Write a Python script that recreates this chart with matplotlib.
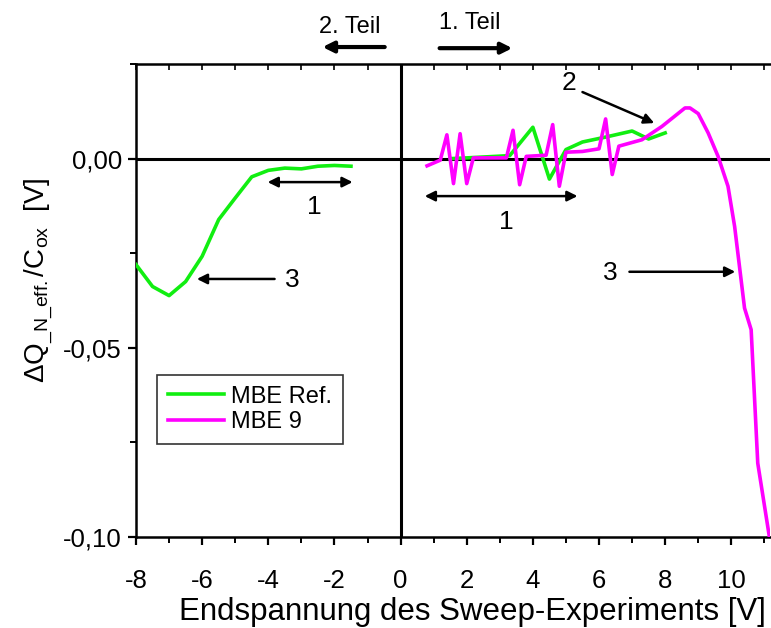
import matplotlib
matplotlib.use("Agg")
import matplotlib.pyplot as plt
from matplotlib.ticker import MultipleLocator, FixedLocator

plt.rcParams['font.family'] = ['Liberation Sans', 'DejaVu Sans']
plt.rcParams['mathtext.fontset'] = 'custom'
plt.rcParams['mathtext.rm'] = 'Liberation Sans'
plt.rcParams['mathtext.it'] = 'Liberation Sans'
plt.rcParams['mathtext.default'] = 'rm'

# MBE Ref. (green) - second part (negative end voltages)
ref_x_neg = [-8.0, -7.5, -7.0, -6.5, -6.0, -5.5, -5.0, -4.5, -4.0, -3.5, -3.0, -2.5, -2.0, -1.5]
ref_y_neg = [-0.0280, -0.0338, -0.0362, -0.0325, -0.0258, -0.0161, -0.0104, -0.0048,
             -0.0031, -0.0025, -0.0027, -0.0020, -0.0018, -0.0020]
# MBE Ref. (green) - first part (positive end voltages)
ref_x_pos = [1.5, 2.0, 3.3, 4.0, 4.5, 5.0, 5.5, 6.2, 7.0, 7.5, 8.0]
ref_y_pos = [0.0000, 0.0002, 0.0008, 0.0083, -0.0054, 0.0024, 0.0044, 0.0057, 0.0073, 0.0052, 0.0068]

# MBE 9 (magenta)
m9_x = [0.8, 1.2, 1.4, 1.6, 1.8, 2.0, 2.2, 3.2, 3.4, 3.6, 3.8, 4.4, 4.6, 4.8, 5.0, 5.5, 6.0,
        6.2, 6.4, 6.6, 7.3, 7.9, 8.6, 8.75, 9.0, 9.3, 9.6, 9.9, 10.1, 10.4, 10.6, 10.8, 11.15]
m9_y = [-0.0019, -0.0004, 0.0063, -0.0066, 0.0066, -0.0066, 0.0002, 0.0002, 0.0075, -0.0069,
        0.0006, 0.0009, 0.0090, -0.0073, 0.0017, 0.0019, 0.0026, 0.0105, -0.0042, 0.0033,
        0.0050, 0.0085, 0.0134, 0.0134, 0.0119, 0.0068, 0.0006, -0.0073, -0.0179, -0.0395,
        -0.0452, -0.0805, -0.0999]

x_ticks = [-8, -6, -4, -2, 0, 2, 4, 6, 8, 10]
x_ticklabels = ['-8', '-6', '-4', '-2', '0', '2', '4', '6', '8', '10']
y_ticks = [-0.10, -0.05, 0.00]
y_ticklabels = ['-0,10', '-0,05', '0,00']

fig = plt.figure(figsize=(7.71, 6.28), dpi=100)
ax = fig.add_axes([0.1764, 0.1449, 0.8223, 0.7531])

green = '#11ee11'
magenta = '#ff00ff'

ax.axhline(0, color='black', lw=2.2, zorder=1)
ax.axvline(0, color='black', lw=2.2, zorder=1)

ax.plot(ref_x_neg, ref_y_neg, color=green, lw=2.6, zorder=3, label='MBE Ref.')
ax.plot(ref_x_pos, ref_y_pos, color=green, lw=2.6, zorder=3)
ax.plot(m9_x, m9_y, color=magenta, lw=2.6, zorder=4, label='MBE 9')

ax.set_xlim(-8, 11.17)
ax.set_ylim(-0.10, 0.025)

ax.set_xticks(x_ticks)
ax.set_xticklabels(x_ticklabels)
ax.xaxis.set_minor_locator(MultipleLocator(1))
ax.set_yticks(y_ticks)
ax.set_yticklabels(y_ticklabels)
ax.yaxis.set_minor_locator(FixedLocator([-0.075, -0.025, 0.025]))

ax.tick_params(axis='both', which='major', direction='out', length=6, width=1.6,
               labelsize=18.5)
ax.tick_params(axis='x', which='major', pad=17)
ax.tick_params(axis='y', which='major', pad=4)
ax.tick_params(axis='both', which='minor', direction='out', length=4, width=1.4)

for side in ['left', 'bottom', 'top']:
    ax.spines[side].set_linewidth(1.8)
ax.spines['right'].set_visible(False)

# top ticks: inward small ticks
sec = ax.secondary_xaxis('top')
sec.set_xticks(list(range(-8, 12)))
sec.set_xticklabels([])
sec.tick_params(direction='in', length=4, width=1.2)
sec.spines['top'].set_visible(False)
ax.tick_params(axis='x', which='both', top=False)

ax.set_xlabel('Endspannung des Sweep-Experiments [V]', fontsize=22.5)
ax.xaxis.set_label_coords(0.531, -0.126)
ax.set_ylabel(r'$\Delta$Q$_{\_N\_eff.}$/C$_{ox}$  [V]', fontsize=20)
ax.yaxis.set_label_coords(-0.128, 0.543)

leg = ax.legend(loc='upper left', bbox_to_anchor=(0.033, 0.3425), borderaxespad=0,
                fontsize=17, fancybox=False, framealpha=1, edgecolor='#333333',
                handlelength=2.4, handletextpad=0.3, borderpad=0.45, labelspacing=0.15,
                handleheight=0.7)
leg.get_frame().set_linewidth(1.2)

akw = dict(xycoords='data', textcoords='data', annotation_clip=False)
# top direction labels
ax.text(-1.54, 0.0347, '2. Teil', fontsize=17, ha='center', va='center', clip_on=False)
ax.annotate('', xy=(-2.36, 0.0295), xytext=(-0.48, 0.0295),
            arrowprops=dict(arrowstyle='-|>', lw=3, color='k', mutation_scale=16,
                            shrinkA=0, shrinkB=0), **akw)
ax.text(2.08, 0.0358, '1. Teil', fontsize=17, ha='center', va='center', clip_on=False)
ax.annotate('', xy=(3.38, 0.0292), xytext=(1.18, 0.0292),
            arrowprops=dict(arrowstyle='-|>', lw=3, color='k', mutation_scale=16,
                            shrinkA=0, shrinkB=0), **akw)

# number labels with arrows
ax.text(5.08, 0.0200, '2', fontsize=19, ha='center', va='center')
ax.annotate('', xy=(7.67, 0.0094), xytext=(5.50, 0.0176),
            arrowprops=dict(arrowstyle='-|>', lw=1.8, color='k', mutation_scale=15,
                            shrinkA=0, shrinkB=0), **akw)
ax.text(6.34, -0.0302, '3', fontsize=19, ha='center', va='center')
ax.annotate('', xy=(10.12, -0.0299), xytext=(6.92, -0.0299),
            arrowprops=dict(arrowstyle='-|>', lw=1.8, color='k', mutation_scale=15,
                            shrinkA=0, shrinkB=0), **akw)
ax.text(-3.26, -0.0320, '3', fontsize=19, ha='center', va='center')
ax.annotate('', xy=(-6.16, -0.0318), xytext=(-3.81, -0.0318),
            arrowprops=dict(arrowstyle='-|>', lw=1.8, color='k', mutation_scale=15,
                            shrinkA=0, shrinkB=0), **akw)
ax.text(-2.60, -0.0128, '1', fontsize=19, ha='center', va='center')
ax.annotate('', xy=(-1.45, -0.0062), xytext=(-4.02, -0.0062),
            arrowprops=dict(arrowstyle='<|-|>', lw=1.8, color='k', mutation_scale=15,
                            shrinkA=0, shrinkB=0), **akw)
ax.text(3.20, -0.0167, '1', fontsize=19, ha='center', va='center')
ax.annotate('', xy=(5.35, -0.0099), xytext=(0.73, -0.0099),
            arrowprops=dict(arrowstyle='<|-|>', lw=1.8, color='k', mutation_scale=15,
                            shrinkA=0, shrinkB=0), **akw)

fig.savefig('out.png', dpi=100)
